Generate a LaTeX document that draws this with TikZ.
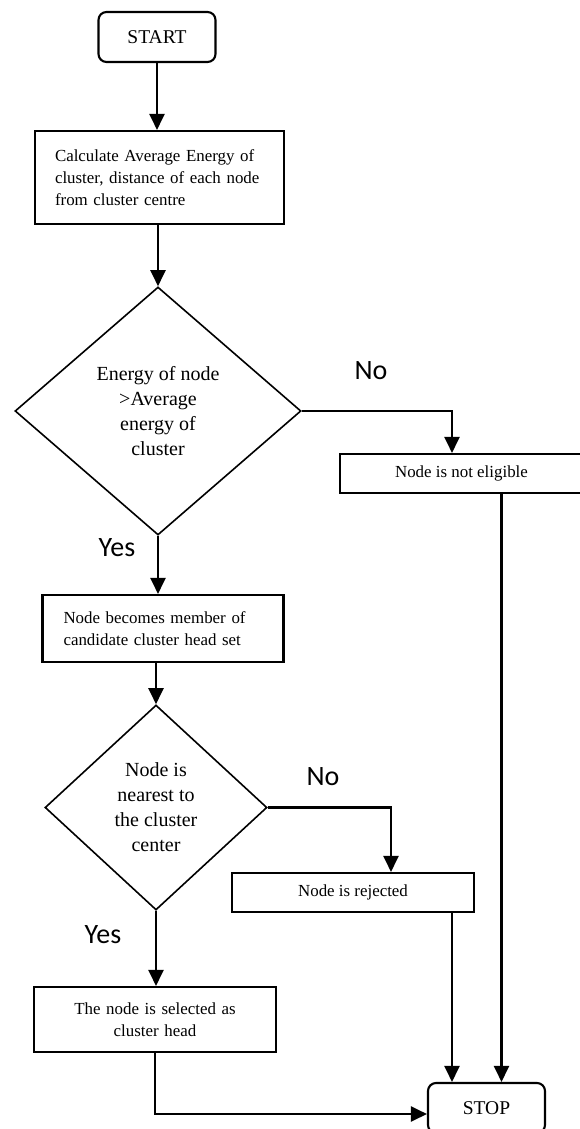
\documentclass[tikz,border=0pt]{standalone}
\usepackage{fontspec}
\setmainfont{Liberation Serif}
\newfontfamily\labelfont{Carlito}
\usetikzlibrary{positioning,shapes.geometric,arrows.meta}
\tikzset{
    base/.style={
        draw=black,
        fill=white,
        text=black,
        line width=2.1pt,
    },
    % Start / Stop
    terminal/.style={
        base,
        rectangle,
        rounded corners=8pt,
        minimum width=117pt,
        minimum height=50pt,
        font=\fontsize{19.5}{23}\selectfont,
    },
    % Processing step
    process/.style={
        base,
        rectangle,
        inner sep=0pt,
        font=\fontsize{16.9}{22}\selectfont,
    },
    % Decision
    decision/.style={
        base,
        diamond,
        line width=1.6pt,
        inner sep=0pt,
        align=center,
        font=\fontsize{20}{25}\selectfont,
    },
    % Yes / No
    answer/.style={
        font=\labelfont\fontsize{28}{30}\selectfont,
    },
    flow/.style={
        line width=2.1pt,
        -{Triangle[length=16pt,width=15pt]},
    },
}

\begin{document}
\begin{tikzpicture}[x=1pt,y=-1pt]
    \useasboundingbox (0,0) rectangle (579,1129);

    % Main column
    \node[terminal] (start) at (157,37) {START};
    \node[process,minimum width=249pt,minimum height=93pt,text width=209pt,align=left] (calc) at (159.5,177.5)
        {Calculate Average Energy of\\cluster, distance of each node\\from cluster centre};
    \node[decision,minimum width=286pt,minimum height=248pt] (energy) at (158,411)
        {Energy of node\\>Average\\energy of\\cluster};
    \node[process,minimum width=241pt,minimum height=67pt,text width=199pt,align=left] (member) at (163,628.5)
        {Node becomes member of\\candidate cluster head set};
    \node[decision,minimum width=222pt,minimum height=205pt] (nearest) at (156,807.5)
        {Node is\\nearest to\\the cluster\\center};
    \node[process,minimum width=242pt,minimum height=65pt,text width=200pt,align=center] (selected) at (155,1019.5)
        {The node is selected as\\cluster head};

    % Side branches
    \node[process,minimum width=243pt,minimum height=39pt] (noteligible) at (461.5,473.5) {Node is not eligible};
    \node[process,minimum width=242pt,minimum height=39pt] (rejected) at (353,892.5) {Node is rejected};
    \node[terminal] (stop) at (486.5,1108) {STOP};

    % Labels
    \node[answer] (no1) at (371,371) {No};
    \node[answer] (yes1) at (117,548) {Yes};
    \node[answer] (no2) at (323,777) {No};
    \node[answer] (yes2) at (103,935) {Yes};

    % Connectors
    \draw[flow] (start) -- (start |- calc.north);
    \draw[flow] (energy |- calc.south) -- (energy.north);
    \draw[flow] (energy.east) -| ([xshift=-9.5pt]noteligible.north);
    \draw[flow] (energy.south) -- (energy.south |- member.north);
    \draw[flow] (nearest.north |- member.south) -- (nearest.north);
    \draw[flow] (nearest.east) -| ([xshift=38pt]rejected.north);
    \draw[flow] (nearest.south) -- (nearest.south |- selected.north);
    \draw[flow] ([xshift=40pt]noteligible.south) -- ([xshift=40pt]noteligible.south |- stop.north);
    \draw[flow] ([xshift=99pt]rejected.south) -- ([xshift=99pt]rejected.south |- stop.north);
    \draw[flow] (selected.south) |- ([yshift=-6pt]stop.west);
\end{tikzpicture}
\end{document}
